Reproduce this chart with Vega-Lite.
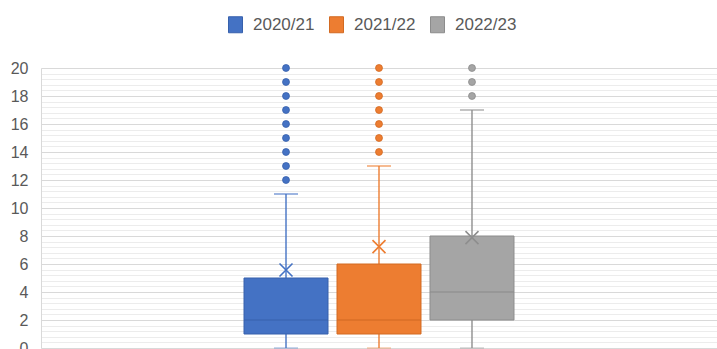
{
  "$schema": "https://vega.github.io/schema/vega-lite/v6.json",
  "width": 676,
  "height": 280,
  "autosize": {"type": "none"},
  "padding": {"left": 41, "top": 68, "right": 0, "bottom": 1},
  "background": "white",
  "config": {
    "view": {"stroke": null},
    "font": "Liberation Sans",
    "legend": {
      "labelFont": "Liberation Sans",
      "labelFontSize": 17,
      "labelColor": "#595959",
      "symbolType": "M-0.875,-1H0.875V1H-0.875Z",
      "symbolSize": 256,
      "symbolStrokeWidth": 1,
      "labelOffset": 9,
      "columnPadding": 12
    }
  },
  "datasets": {
    "stats": [
      {"series": "2020/21", "min": 0, "q1": 1, "median": 2, "q3": 5, "max": 11, "mean": 5.57},
      {"series": "2021/22", "min": 0, "q1": 1, "median": 2, "q3": 6, "max": 13, "mean": 7.24},
      {"series": "2022/23", "min": 0, "q1": 2, "median": 4, "q3": 8, "max": 17, "mean": 7.88}
    ],
    "outliers": [
      {"series": "2020/21", "value": 12}, {"series": "2020/21", "value": 13}, {"series": "2020/21", "value": 14},
      {"series": "2020/21", "value": 15}, {"series": "2020/21", "value": 16}, {"series": "2020/21", "value": 17},
      {"series": "2020/21", "value": 18}, {"series": "2020/21", "value": 19}, {"series": "2020/21", "value": 20},
      {"series": "2021/22", "value": 14}, {"series": "2021/22", "value": 15}, {"series": "2021/22", "value": 16},
      {"series": "2021/22", "value": 17}, {"series": "2021/22", "value": 18}, {"series": "2021/22", "value": 19},
      {"series": "2021/22", "value": 20},
      {"series": "2022/23", "value": 18}, {"series": "2022/23", "value": 19}, {"series": "2022/23", "value": 20}
    ]
  },
  "data": {"name": "stats"},
  "encoding": {
    "x": {
      "field": "series", "type": "nominal", "axis": null,
      "scale": {"domain": [" a", " b", "2020/21", "2021/22", "2022/23", " c", " d"], "paddingInner": 0.0968, "paddingOuter": 0.183}
    }
  },
  "resolve": {"axis": {"y": "independent"}},
  "layer": [
    {
      "mark": {"type": "rule", "strokeWidth": 1.4},
      "encoding": {
        "y": {
          "field": "min", "type": "quantitative",
          "scale": {"domain": [0, 20], "nice": false, "zero": true},
          "axis": {
            "orient": "left", "title": null, "labels": false, "ticks": false, "domain": false,
            "grid": true, "gridColor": "#ececec", "gridWidth": 1,
            "values": [0,0.4,0.8,1.2,1.6,2,2.4,2.8,3.2,3.6,4,4.4,4.8,5.2,5.6,6,6.4,6.8,7.2,7.6,8,8.4,8.8,9.2,9.6,10,10.4,10.8,11.2,11.6,12,12.4,12.8,13.2,13.6,14,14.4,14.8,15.2,15.6,16,16.4,16.8,17.2,17.6,18,18.4,18.8,19.2,19.6,20]
          }
        },
        "y2": {"field": "max"},
        "color": {
          "field": "series", "type": "nominal",
          "scale": {"range": ["#4472C4", "#ED7D31", "#8E8E8E"]},
          "legend": null
        }
      }
    },
    {
      "mark": {"type": "bar", "strokeWidth": 1},
      "encoding": {
        "y": {
          "field": "q1", "type": "quantitative",
          "axis": {
            "orient": "left", "title": null, "values": [0,2,4,6,8,10,12,14,16,18,20],
            "ticks": false, "labelPadding": 13, "labelFontSize": 16, "labelColor": "#595959",
            "labelFont": "Liberation Sans", "domainColor": "#d9d9d9", "domainWidth": 1,
            "grid": true, "gridColor": "#d9d9d9", "gridWidth": 1
          }
        },
        "y2": {"field": "q3"},
        "fill": {
          "field": "series", "type": "nominal",
          "scale": {"domain": ["2020/21", "2021/22", "2022/23"], "range": ["#4472C4", "#ED7D31", "#A5A5A5"]},
          "legend": {"title": null, "orient": "none", "direction": "horizontal", "legendX": 186, "legendY": -52}
        },
        "stroke": {
          "field": "series", "type": "nominal",
          "scale": {"domain": ["2020/21", "2021/22", "2022/23"], "range": ["#3761AC", "#D26A22", "#8C8C8C"]},
          "legend": {"title": null, "orient": "none", "direction": "horizontal", "legendX": 186, "legendY": -52}
        }
      }
    },
    {
      "mark": {"type": "tick", "filled": false, "thickness": 0, "strokeWidth": 1.6, "size": 84},
      "encoding": {
        "y": {"field": "median", "type": "quantitative", "axis": null},
        "stroke": {"field": "series", "type": "nominal"}
      }
    },
    {
      "mark": {"type": "tick", "filled": false, "thickness": 0, "strokeWidth": 1.6, "size": 24},
      "encoding": {
        "y": {"field": "max", "type": "quantitative", "axis": null},
        "color": {"field": "series", "type": "nominal", "legend": null}
      }
    },
    {
      "mark": {"type": "tick", "filled": false, "thickness": 0, "strokeWidth": 1.6, "size": 24, "opacity": 0.4},
      "encoding": {
        "y": {"field": "min", "type": "quantitative", "axis": null},
        "color": {"field": "series", "type": "nominal", "legend": null}
      }
    },
    {
      "mark": {"type": "point", "shape": "M-1,-1L1,1M-1,1L1,-1", "size": 169, "strokeWidth": 1.6, "filled": false, "opacity": 1},
      "encoding": {
        "y": {"field": "mean", "type": "quantitative", "axis": null},
        "color": {"field": "series", "type": "nominal", "legend": null}
      }
    },
    {
      "data": {"name": "outliers"},
      "mark": {"type": "circle", "size": 48, "opacity": 1, "strokeWidth": 0.8},
      "encoding": {
        "y": {"field": "value", "type": "quantitative", "axis": null},
        "fill": {"field": "series", "type": "nominal"},
        "stroke": {"field": "series", "type": "nominal"}
      }
    }
  ]
}
